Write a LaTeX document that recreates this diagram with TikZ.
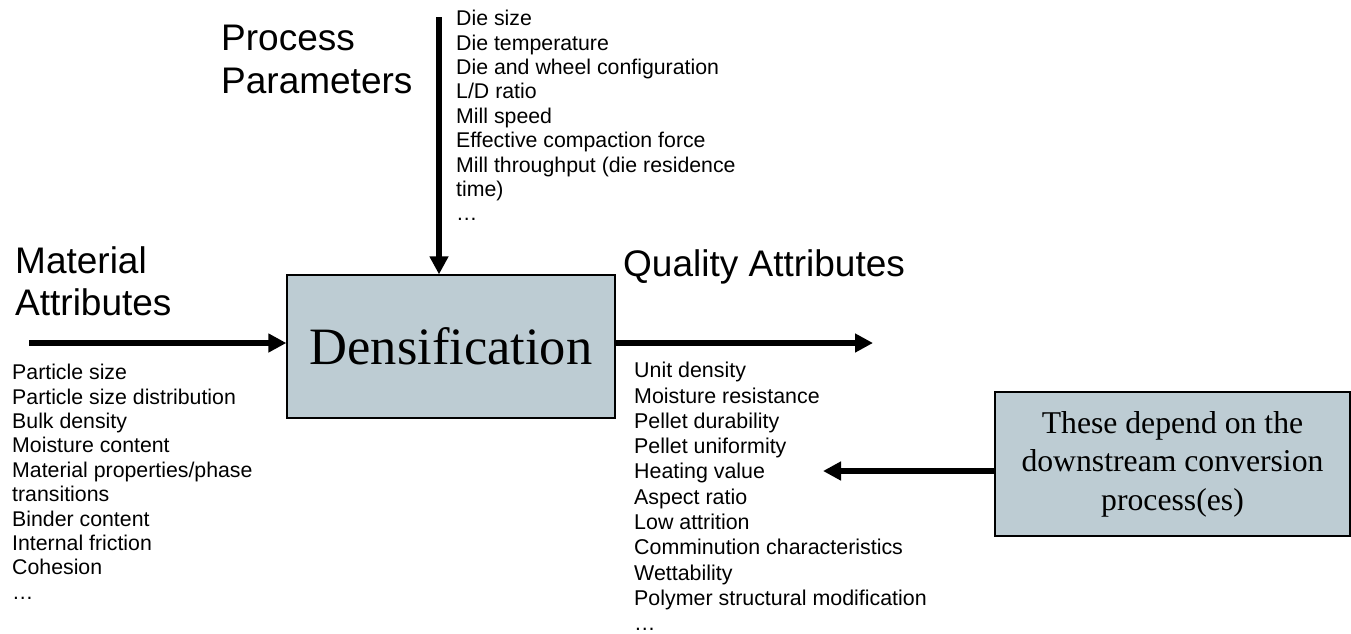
\documentclass[tikz,border=0pt]{standalone}
\usepackage{fontspec}
\setmainfont{Liberation Sans}
\newfontfamily\tnr{Liberation Serif}
\usetikzlibrary{arrows.meta}
\definecolor{boxfill}{RGB}{189,204,211}
\tikzset{
  procbox/.style={draw=black, line width=1.3pt, fill=boxfill, inner sep=0pt},
  heading/.style={anchor=north west, inner sep=0pt, align=left, font=\fontsize{37}{42.5}\selectfont},
  itemlist/.style={anchor=north west, inner sep=0pt, align=left, font=\fontsize{21.3}{24.4}\selectfont},
  widelist/.style={itemlist, font=\fontsize{21.4}{25.3}\selectfont},
  flow/.style={line width=5.5pt, -{Triangle[length=18pt,width=18pt]}}
}
\begin{document}
\begin{tikzpicture}[x=1pt,y=-1pt]
\useasboundingbox (0,0) rectangle (1351,633);
\fill[white] (0,0) rectangle (1351,633);
% boxes
\node[procbox, minimum width=328pt, minimum height=143pt, font=\tnr\fontsize{52.5}{60}\selectfont] (dens) at (451,346.5) {Densification};
\node[procbox, minimum width=355pt, minimum height=144pt, align=center, font=\tnr\fontsize{31.7}{38.5}\selectfont] (conv) at (1172.5,464) {These depend on the\\downstream conversion\\process(es)};
% headings
\node[heading] (proc) at (221,25) {Process\\Parameters};
\node[heading] (mat) at (15,246) {Material\\Attributes};
\node[heading] (qual) at (623,249) {Quality Attributes};
% lists
\node[itemlist] (plist) at (456,10) {Die size\\Die temperature\\Die and wheel configuration\\L/D ratio\\Mill speed\\Effective compaction force\\Mill throughput (die residence\\time)\\…};
\node[itemlist] (mlist) at (12,364) {Particle size\\Particle size distribution\\Bulk density\\Moisture content\\Material properties/phase\\transitions\\Binder content\\Internal friction\\Cohesion\\…};
\node[widelist] (qlist) at (634,362) {Unit density\\Moisture resistance\\Pellet durability\\Pellet uniformity\\Heating value\\Aspect ratio\\Low attrition\\Comminution characteristics\\Wettability\\Polymer structural modification\\…};
% connector end points
\coordinate (ptop) at (439,17);
\coordinate (mstart) at (29,343);
\coordinate (qend) at (873,343);
\coordinate (backtip) at (823,471);
% connectors
\draw[flow] (ptop) -- (ptop |- dens.north);
\draw[flow] (mstart) -- (mstart -| dens.west);
\draw[flow] (qend -| dens.east) -- (qend);
\draw[flow] (conv.west |- backtip) -- (backtip);
\end{tikzpicture}
\end{document}
